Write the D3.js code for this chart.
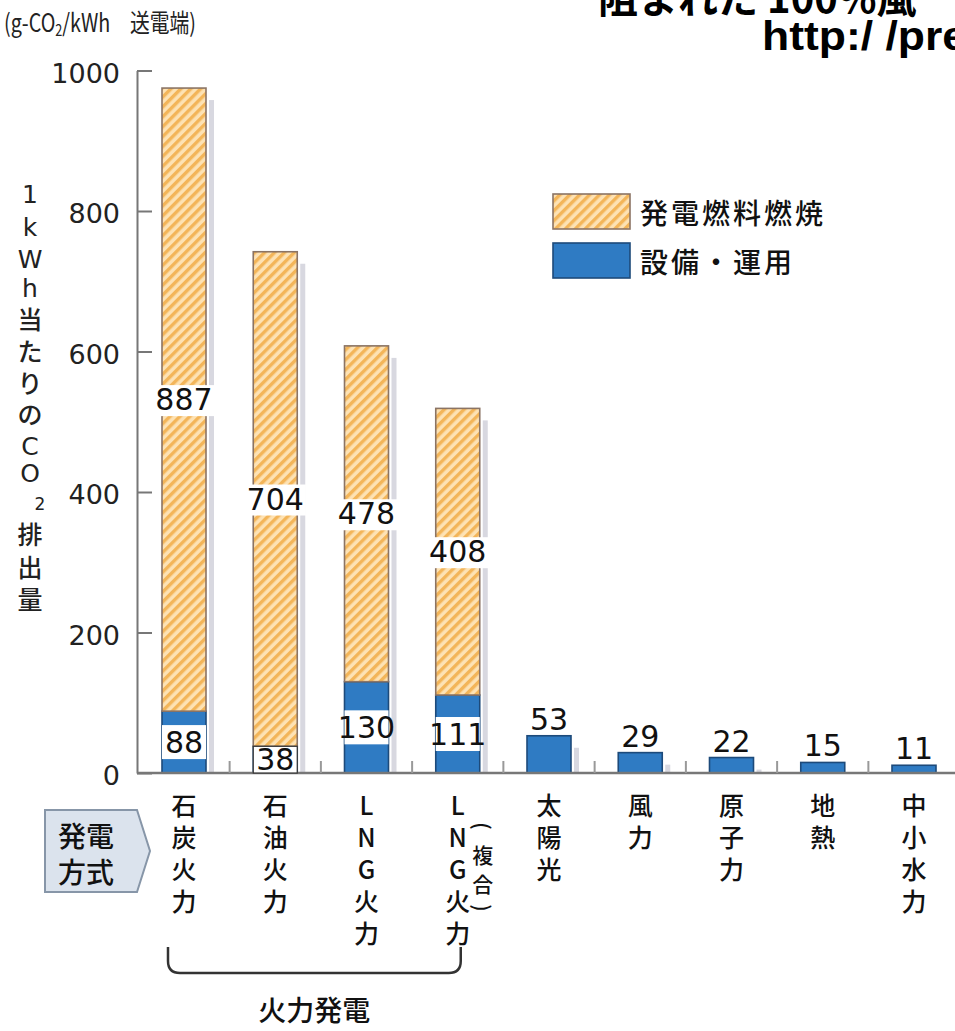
<!DOCTYPE html>
<html>
<head>
<meta charset="utf-8">
<script src="https://cdn.jsdelivr.net/npm/d3@7"></script>
<style>
  body { margin: 0; background: #fff; overflow: hidden; }
  svg { display: block; }
</style>
</head>
<body>
<svg id="chart" width="955" height="1031"></svg>
<script>
// ---- data ----
const categories = ["石炭火力", "石油火力", "LNG火力", "LNG火力", "太陽光", "風力", "原子力", "地熱", "中小水力"];
const categoryNotes = ["", "", "", "(複合)", "", "", "", "", ""];
const fuelValues = [887, 704, 478, 408, 0, 0, 0, 0, 0];          // 発電燃料燃焼
const facilityValues = [88, 38, 130, 111, 53, 29, 22, 15, 11];  // 設備・運用
const yTicks = [0, 200, 400, 600, 800, 1000];
const seriesNames = { fuel: "発電燃料燃焼", facility: "設備・運用" };
const groupLabel = "火力発電";
const groupMembers = [0, 3];
const methodLabel = ["発電", "方式"];
const yTitle = ["1", "k", "W", "h", "当", "た", "り", "の", "C", "O", "2", "排", "出", "量"];
const headerLines = ["阻まれた 100%風", "http:/ /pre"];

// ---- setup ----
const svg = d3.select("#chart");
const W = 955, H = 1031;
const jp = "'Noto Sans CJK JP', 'Noto Sans', sans-serif";
const num = "'DejaVu Sans', 'Liberation Sans', sans-serif";

const rows = categories.map((c, i) => ({ i, facility: facilityValues[i], fuel: fuelValues[i] }));
const stacked = d3.stack().keys(["facility", "fuel"])(rows);

const y = d3.scaleLinear().domain([0, 1000]).range([773, 70.5]);
const x = d3.scalePoint().domain(d3.range(categories.length)).range([184, 914]);
const step = x.step();
const bw = 44;

// hatch pattern for the fuel segment
const defs = svg.append("defs");
const pat = defs.append("pattern")
  .attr("id", "hatch").attr("patternUnits", "userSpaceOnUse")
  .attr("width", 7).attr("height", 7)
  .attr("patternTransform", "rotate(45)");
pat.append("rect").attr("width", 7).attr("height", 7).attr("fill", "#fde2b4");
pat.append("rect").attr("width", 3.4).attr("height", 7).attr("fill", "#f3b559");

const colors = {
  facility: { fill: "#2f7bc3", stroke: "#1d4a7a" },
  fuel: { fill: "url(#hatch)", stroke: "#8b7464" }
};

// ---- header text ----
svg.append("text")
  .attr("x", 598).attr("y", 13)
  .attr("font-family", jp).attr("font-weight", 700).attr("font-size", 40)
  .attr("fill", "#000")
  .text(headerLines[0]);
svg.append("text")
  .attr("x", 762).attr("y", 50)
  .attr("font-family", "'Liberation Sans Narrow', 'Liberation Sans', sans-serif")
  .attr("font-weight", 700).attr("font-size", 40)
  .attr("textLength", 205).attr("lengthAdjust", "spacingAndGlyphs")
  .attr("fill", "#000")
  .text(headerLines[1]);

// unit label
const unit = svg.append("text")
  .attr("x", 4).attr("y", 32)
  .attr("font-family", jp).attr("font-size", 25).attr("fill", "#222")
  .attr("textLength", 192).attr("lengthAdjust", "spacingAndGlyphs");
unit.append("tspan").text("(g-CO");
unit.append("tspan").attr("font-size", 16).attr("dy", 4).text("2");
unit.append("tspan").attr("dy", -4).text("/kWh　送電端)");

// ---- y title, stacked vertically ----
const yTitlePos = [194, 227, 259, 288, 318, 350, 382, 413, 446, 473, 504, 533, 566, 598];
yTitle.forEach((ch, k) => {
  const small = ch === "2";
  svg.append("text")
    .attr("x", small ? 40 : 30).attr("y", yTitlePos[k])
    .attr("text-anchor", "middle").attr("dominant-baseline", "central")
    .attr("font-family", /[A-Za-z0-9]/.test(ch) ? num : jp)
    .attr("font-weight", 500)
    .attr("font-size", small ? 17 : 25)
    .attr("fill", "#222")
    .text(ch);
});

// ---- y axis ----
const yAxis = svg.append("g")
  .attr("transform", "translate(137,0)")
  .call(d3.axisLeft(y).tickValues(yTicks).tickFormat(d3.format("d"))
    .tickSize(-15).tickSizeOuter(0).tickPadding(17));
yAxis.select(".domain").attr("stroke", "#777").attr("stroke-width", 2);
yAxis.selectAll(".tick line").attr("stroke", "#777").attr("stroke-width", 2);
yAxis.selectAll(".tick text")
  .attr("font-family", num).attr("font-size", 27).attr("fill", "#222")
  .attr("dy", "0.62em").attr("y", -5);

// ---- bar shadows ----
svg.append("g").selectAll("rect")
  .data(rows).join("rect")
  .attr("x", d => x(d.i) + bw / 2 + 3)
  .attr("y", d => y(d.facility + d.fuel) + 12)
  .attr("width", 5)
  .attr("height", d => y(0) - y(d.facility + d.fuel) - 12)
  .attr("fill", "#d8d8e0");

// ---- stacked bars ----
stacked.forEach(layer => {
  svg.append("g").selectAll("rect")
    .data(layer.filter(d => d[1] > d[0])).join("rect")
    .attr("x", d => x(d.data.i) - bw / 2)
    .attr("y", d => y(d[1]))
    .attr("width", bw)
    .attr("height", d => y(d[0]) - y(d[1]))
    .attr("fill", colors[layer.key].fill)
    .attr("stroke", colors[layer.key].stroke)
    .attr("stroke-width", 1.6);
});

// ---- x axis baseline & minor ticks ----
svg.append("line")
  .attr("x1", 137).attr("x2", W)
  .attr("y1", y(0)).attr("y2", y(0))
  .attr("stroke", "#777").attr("stroke-width", 2.5);
svg.append("g").selectAll("line")
  .data(d3.range(categories.length)).join("line")
  .attr("x1", i => x(i) + step / 2).attr("x2", i => x(i) + step / 2)
  .attr("y1", y(0) - 12).attr("y2", y(0))
  .attr("stroke", "#999").attr("stroke-width", 2);

// ---- value labels ----
const labels = svg.append("g");
rows.forEach(d => {
  const cx = x(d.i);
  if (d.fuel > 0) {
    // facility value, boxed inside its segment
    const segH = y(0) - y(d.facility);
    const boxH = Math.min(34, segH);
    const mid = y(d.facility / 2);
    labels.append("rect")
      .attr("x", cx - bw / 2).attr("y", mid - boxH / 2)
      .attr("width", bw).attr("height", boxH)
      .attr("fill", "#fff")
      .attr("stroke", boxH >= segH ? "#333" : "none")
      .attr("stroke-width", 1.2);
    labels.append("text")
      .attr("x", cx).attr("y", mid)
      .attr("text-anchor", "middle").attr("dominant-baseline", "central")
      .attr("font-family", num).attr("font-size", 30).attr("fill", "#111")
      .text(d.facility);
    // fuel value at the middle of its segment
    const fm = y(d.facility + d.fuel / 2);
    const bg = labels.append("rect").attr("fill", "#fff");
    const t = labels.append("text")
      .attr("x", cx).attr("y", fm)
      .attr("text-anchor", "middle").attr("dominant-baseline", "central")
      .attr("font-family", num).attr("font-size", 30).attr("fill", "#111")
      .text(d.fuel);
    const b = t.node().getBBox();
    bg.attr("x", b.x - 2).attr("y", b.y + 3).attr("width", b.width + 4).attr("height", b.height - 4);
  } else {
    labels.append("text")
      .attr("x", cx).attr("y", y(d.facility) - 6)
      .attr("text-anchor", "middle")
      .attr("font-family", num).attr("font-size", 30).attr("fill", "#111")
      .text(d.facility);
  }
});

// ---- category labels (vertical) ----
const catG = svg.append("g");
categories.forEach((c, i) => {
  Array.from(c).forEach((ch, k) => {
    catG.append("text")
      .attr("x", x(i)).attr("y", 804 + k * 32)
      .attr("text-anchor", "middle").attr("dominant-baseline", "central")
      .attr("font-family", jp).attr("font-weight", 500).attr("font-size", 25)
      .attr("fill", "#111")
      .text(ch);
  });
  const note = categoryNotes[i];
  if (note) {
    const notePos = [826, 854, 883, 908];
    const nx = x(i) + 25;
    Array.from(note).forEach((ch, k) => {
      const paren = ch === "(" || ch === ")";
      catG.append("text")
        .attr("x", nx).attr("y", notePos[k])
        .attr("text-anchor", "middle").attr("dominant-baseline", "central")
        .attr("font-family", jp).attr("font-weight", 500).attr("font-size", 21)
        .attr("fill", "#111")
        .attr("transform", paren ? `rotate(90,${nx},${notePos[k]})` : null)
        .text(ch);
    });
  }
});

// ---- 発電方式 tag ----
svg.append("path")
  .attr("d", "M45,810 H137 L150,851 L137,892 H45 Z")
  .attr("fill", "#dbe3ed").attr("stroke", "#8796a8").attr("stroke-width", 2);
methodLabel.forEach((t, k) => {
  svg.append("text")
    .attr("x", 86).attr("y", 835 + k * 36)
    .attr("text-anchor", "middle").attr("dominant-baseline", "central")
    .attr("font-family", jp).attr("font-weight", 500).attr("font-size", 28)
    .attr("fill", "#111")
    .text(t);
});

// ---- bracket under the thermal group ----
const bx0 = x(groupMembers[0]) - 16, bx1 = x(groupMembers[1]) + 3;
svg.append("path")
  .attr("d", `M${bx0},947 V961 Q${bx0},973 ${bx0 + 12},973 H${bx1 - 12} Q${bx1},973 ${bx1},961 V947`)
  .attr("fill", "none").attr("stroke", "#333").attr("stroke-width", 2.5);
svg.append("text")
  .attr("x", (bx0 + bx1) / 2).attr("y", 1009)
  .attr("text-anchor", "middle").attr("dominant-baseline", "central")
  .attr("font-family", jp).attr("font-weight", 500).attr("font-size", 28)
  .attr("fill", "#111")
  .text(groupLabel);

// ---- legend ----
const legend = [
  { key: "fuel", y: 194 },
  { key: "facility", y: 243 }
];
legend.forEach(l => {
  svg.append("rect")
    .attr("x", 553).attr("y", l.y).attr("width", 77).attr("height", 35)
    .attr("fill", colors[l.key].fill).attr("stroke", colors[l.key].stroke).attr("stroke-width", 1.6);
  svg.append("text")
    .attr("x", 640).attr("y", l.y + 18)
    .attr("dominant-baseline", "central")
    .attr("font-family", jp).attr("font-weight", 500).attr("font-size", 28)
    .attr("letter-spacing", 3)
    .attr("fill", "#111")
    .text(seriesNames[l.key]);
});
</script>
</body>
</html>
